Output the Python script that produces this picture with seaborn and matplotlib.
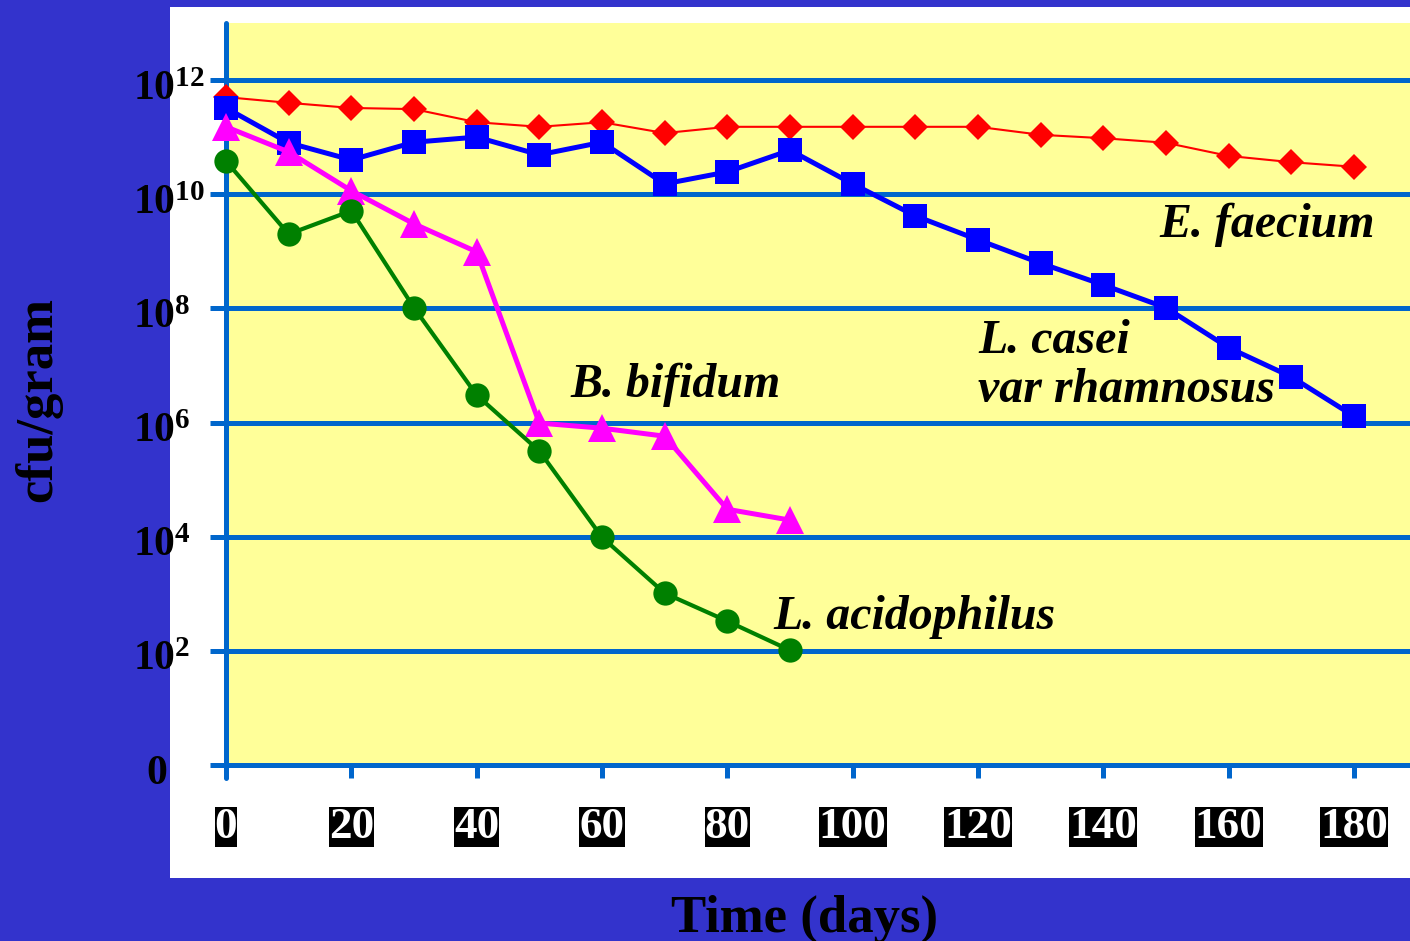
import matplotlib
matplotlib.use("Agg")
import matplotlib.pyplot as plt
from matplotlib.patches import Rectangle
from matplotlib.transforms import ScaledTranslation
import seaborn as sns
import numpy as np

# ---- data (log10 cfu/gram) ----
days_full = [0, 10, 20, 30, 40, 50, 60, 70, 80, 90, 100, 110, 120, 130, 140, 150, 160, 170, 180]
days_short = [0, 10, 20, 30, 40, 50, 60, 70, 80, 90]
e_faecium = [11.70, 11.60, 11.51, 11.49, 11.26, 11.18, 11.26, 11.07, 11.18, 11.18,
             11.18, 11.18, 11.18, 11.04, 10.98, 10.90, 10.67, 10.56, 10.48]
l_casei = [11.51, 10.90, 10.60, 10.91, 11.00, 10.69, 10.91, 10.18, 10.39, 10.77,
           10.18, 9.62, 9.20, 8.79, 8.41, 8.01, 7.31, 6.80, 6.11]
b_bifidum = [11.18, 10.74, 10.06, 9.48, 8.99, 5.99, 5.90, 5.76, 4.48, 4.29]
l_acidophilus = [10.58, 9.30, 9.71, 8.01, 6.48, 5.50, 3.99, 3.01, 2.52, 2.01]

y_ticks = [0, 2, 4, 6, 8, 10, 12]
y_labels = ["0", r"$10^{2}$", r"$10^{4}$", r"$10^{6}$", r"$10^{8}$", r"$10^{10}$", r"$10^{12}$"]
x_ticks = [0, 20, 40, 60, 80, 100, 120, 140, 160, 180]
x_labels = [str(v) for v in x_ticks]

# ---- style ----
BG = "#3333CC"
YELLOW = "#FFFF99"
GRID = "#0066CC"
SERIF = "Liberation Serif"

plt.rcParams["font.family"] = [SERIF, "DejaVu Serif"]
plt.rcParams["font.weight"] = "bold"
plt.rcParams["mathtext.fontset"] = "custom"
plt.rcParams["mathtext.rm"] = "Liberation Serif:bold"
plt.rcParams["mathtext.bf"] = "Liberation Serif:bold"
plt.rcParams["mathtext.it"] = "Liberation Serif:italic:bold"
plt.rcParams["mathtext.default"] = "rm"

W, H = 1410, 941
fig = plt.figure(figsize=(W / 100, H / 100), dpi=100, facecolor=BG)

# white panel
fig.patches.append(Rectangle((170 / W, (H - 878) / H), (W - 170) / W, (878 - 7) / H,
                             transform=fig.transFigure, facecolor="white",
                             edgecolor="none", zorder=-10))

ax_left, ax_right = 226, 1410
ax_top, ax_bot = 23, 778
ax = fig.add_axes([ax_left / W, (H - ax_bot) / H, (ax_right - ax_left) / W, (ax_bot - ax_top) / H])
ax.set_zorder(1)
ax.set_facecolor("none")

px_per_day = (1354 - 226) / 180
px_per_unit = (765 - 80) / 12
ax.set_xlim(0, (ax_right - ax_left) / px_per_day)
ax.set_ylim(-(ax_bot - 765) / px_per_unit, (765 - ax_top) / px_per_unit)

ax.axhspan(0, ax.get_ylim()[1], color=YELLOW, zorder=0.1, lw=0)

# grid
ax.set_axisbelow(True)
ax.grid(axis="y", color=GRID, lw=3.6, zorder=0.5)
ax.grid(axis="x", visible=False)

# series
sns.lineplot(x=days_full, y=e_faecium, ax=ax, color="#FF0000", lw=1.5, marker="D",
             markersize=13.5, markeredgewidth=0, clip_on=False, zorder=3)
sns.lineplot(x=days_full, y=l_casei, ax=ax, color="#0000FF", lw=3.6, marker="s",
             markersize=17.5, markeredgewidth=0, clip_on=False, zorder=4)
sns.lineplot(x=days_short, y=b_bifidum, ax=ax, color="#FF00FF", lw=3.6, marker="^",
             markersize=19.5, markeredgewidth=0, clip_on=False, zorder=5)
sns.lineplot(x=days_short, y=l_acidophilus, ax=ax, color="#008000", lw=3.0, marker="o",
             markersize=17.5, markeredgewidth=0, clip_on=False, zorder=6)

# spines
for s in ["top", "right"]:
    ax.spines[s].set_visible(False)
ax.spines["bottom"].set_position(("data", 0))
ax.spines["bottom"].set_color(GRID)
ax.spines["bottom"].set_linewidth(3.6)
ax.spines["left"].set_color(GRID)
ax.spines["left"].set_linewidth(3.6)
ax.spines["left"].set_capstyle("round")
ax.spines["left"].set_zorder(2)

# ticks
ax.set_yticks(y_ticks, labels=y_labels)
ax.set_xticks(x_ticks, labels=x_labels)
ax.tick_params(axis="y", direction="out", length=11.5, width=3.6, color=GRID,
               labelsize=30, pad=55.4, labelcolor="black")
for lbl in ax.get_yticklabels():
    lbl.set_horizontalalignment("left")
    lbl.set_fontweight("bold")
    dx = 13 / 100 if lbl.get_text() == "0" else 0
    lbl.set_transform(lbl.get_transform() + ScaledTranslation(dx, -5 / 100, fig.dpi_scale_trans))
ax.tick_params(axis="x", direction="out", length=9.4, width=3.6, color=GRID,
               labelsize=32.5, pad=20.5, labelcolor="white")
for lbl in ax.get_xticklabels():
    lbl.set_fontweight("bold")
    lbl.set_bbox(dict(facecolor="black", edgecolor="none", pad=0))

# axis labels
ax.set_xlabel("Time (days)", fontsize=38, fontweight="bold", color="black", va="baseline")
ax.xaxis.set_label_coords(805 / W, (H - 932) / H, transform=fig.transFigure)
ax.set_ylabel("cfu/gram", fontsize=38, fontweight="bold", color="black", va="center")
ax.yaxis.set_label_coords(38 / W, (H - 400) / H, transform=fig.transFigure)

# annotations
ann = dict(fontsize=34.5, fontweight="bold", fontstyle="italic", color="black",
           ha="left", va="baseline", zorder=7)
ax.text(149.0, 9.25, "E. faecium", **ann)
ax.text(120.0, 7.22, "L. casei", **ann)
ax.text(120.0, 6.36, "var rhamnosus", **ann)
ax.text(54.9, 6.45, "B. bifidum", **ann)
ax.text(87.3, 2.38, "L. acidophilus", **ann)

fig.savefig("out.png", dpi=100, facecolor=BG)
